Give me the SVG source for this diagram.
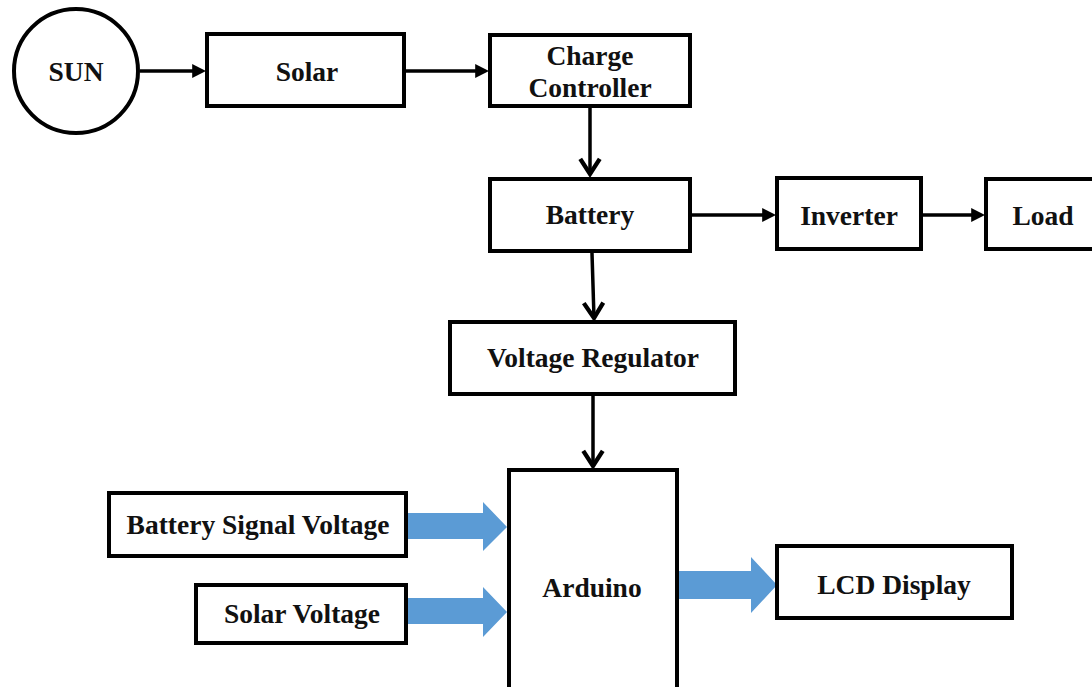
<svg xmlns="http://www.w3.org/2000/svg" width="1092" height="687" viewBox="0 0 1092 687">
<style>
.box{fill:#fff;stroke:#000;stroke-width:4}
.t{font-family:"Liberation Serif","Times New Roman",serif;font-weight:bold;font-size:27.5px;fill:#111;text-anchor:middle}
.ln{stroke:#000;stroke-width:3.5;fill:none}
.blue{fill:#5B9BD5}
</style>
<defs>
<marker id="tri" markerUnits="userSpaceOnUse" markerWidth="14" markerHeight="14" viewBox="0 0 12 12" refX="5" refY="6" orient="auto">
<path d="M0,0 L12,6 L0,12 z" fill="#000"/>
</marker>
<marker id="chev" markerUnits="userSpaceOnUse" markerWidth="24" markerHeight="26" viewBox="0 0 20 24" refX="16" refY="12" orient="auto" overflow="visible">
<path d="M2,3 L16,12 L2,21" fill="none" stroke="#000" stroke-width="4"/>
</marker>
</defs>
<rect width="1092" height="687" fill="#fff"/>
<g id="connectors">
<line class="ln" x1="140" y1="71" x2="198" y2="71" marker-end="url(#tri)"/>
<line class="ln" x1="405" y1="71" x2="481" y2="71" marker-end="url(#tri)"/>
<line class="ln" x1="590" y1="108" x2="590" y2="174" marker-end="url(#chev)"/>
<line class="ln" x1="692" y1="215" x2="768" y2="215" marker-end="url(#tri)"/>
<line class="ln" x1="923" y1="215" x2="977" y2="215" marker-end="url(#tri)"/>
<line class="ln" x1="592" y1="253" x2="594" y2="318" marker-end="url(#chev)"/>
<line class="ln" x1="593" y1="396" x2="593" y2="466" marker-end="url(#chev)"/>
<polygon class="blue" points="408,513 483,513 483,502 507,527 483,551 483,539 408,539"/>
<polygon class="blue" points="408,598 483,598 483,587 507,612 483,637 483,624 408,624"/>
<polygon class="blue" points="679,571 751,571 751,557 777,585 751,613 751,599 679,599"/>
</g>
<g id="sun">
<circle class="box" cx="76" cy="71" r="62"/>
<text class="t" x="76" y="81">SUN</text>
</g>
<g id="solar">
<rect class="box" x="207" y="34" width="197" height="72"/>
<text class="t" x="307" y="81">Solar</text>
</g>
<g id="charge-controller">
<rect class="box" x="490" y="35" width="200" height="71"/>
<text class="t" x="590" y="65">Charge</text>
<text class="t" x="590" y="97">Controller</text>
</g>
<g id="battery">
<rect class="box" x="490" y="179" width="200" height="72"/>
<text class="t" x="590" y="224">Battery</text>
</g>
<g id="inverter">
<rect class="box" x="777" y="178" width="144" height="71"/>
<text class="t" x="849" y="225">Inverter</text>
</g>
<g id="load">
<rect class="box" x="986" y="179" width="130" height="70"/>
<text class="t" x="1043" y="225">Load</text>
</g>
<g id="voltage-regulator">
<rect class="box" x="450" y="322" width="285" height="72"/>
<text class="t" x="593" y="367">Voltage Regulator</text>
</g>
<g id="arduino">
<rect class="box" x="509" y="470" width="168" height="240"/>
<text class="t" x="592" y="597">Arduino</text>
</g>
<g id="battery-signal-voltage">
<rect class="box" x="109" y="493" width="297" height="63"/>
<text class="t" x="258" y="534">Battery Signal Voltage</text>
</g>
<g id="solar-voltage">
<rect class="box" x="196" y="585" width="210" height="58"/>
<text class="t" x="302" y="623">Solar Voltage</text>
</g>
<g id="lcd-display">
<rect class="box" x="777" y="546" width="235" height="72"/>
<text class="t" x="894" y="594">LCD Display</text>
</g>
</svg>
